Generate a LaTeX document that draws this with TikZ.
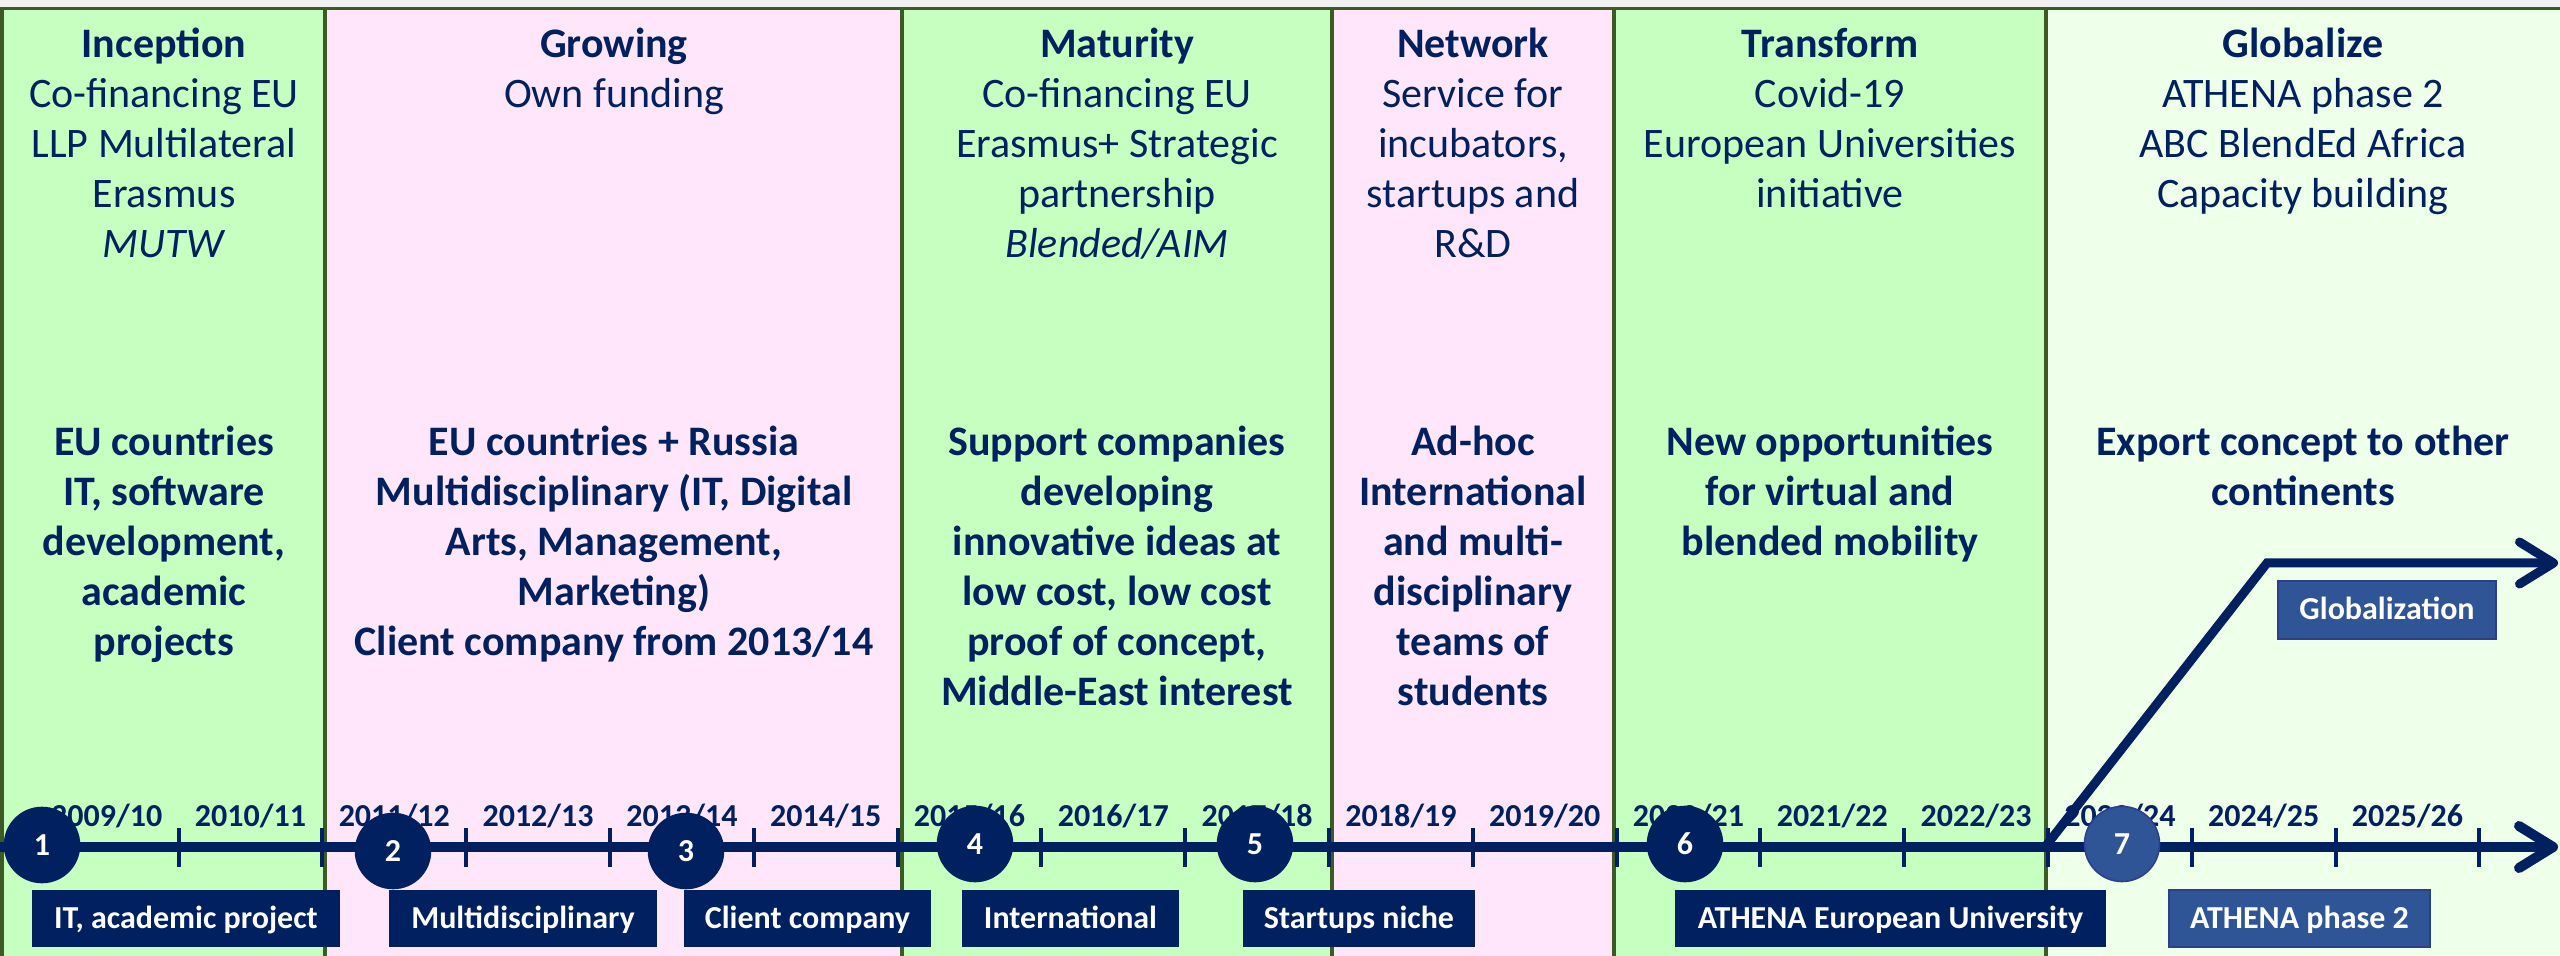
\documentclass[tikz,border=0pt]{standalone}
\usepackage{fontspec}
\setmainfont{Carlito}
\usetikzlibrary{arrows.meta}
\definecolor{navy}{HTML}{002060}
\definecolor{gfill}{HTML}{C6FFC0}
\definecolor{pfill}{HTML}{FFE6FA}
\definecolor{lfill}{HTML}{EEFFEA}
\definecolor{gborder}{HTML}{3B5A25}
\definecolor{midblue}{HTML}{2F5597}
\definecolor{midborder}{HTML}{2E3E8C}
\definecolor{topgray}{HTML}{F0F0F0}
\begin{document}
\begin{tikzpicture}[x=0.5pt,y=-0.5pt,
  head/.style={anchor=north, align=center, inner sep=0pt, text=navy, font=\fontsize{21}{25}\selectfont},
  bodyt/.style={head, font=\fontsize{21}{25}\selectfont\bfseries},
  yr/.style={anchor=base, inner sep=0pt, text=navy, font=\fontsize{16}{19}\selectfont\bfseries},
  circ/.style={circle, fill=navy, draw=navy, line width=0.8pt, minimum size=37.5pt, inner sep=0pt,
    text=white, font=\fontsize{16}{19}\selectfont\bfseries, text height=12pt, text depth=2pt},
  circlight/.style={circ, fill=midblue, draw=midborder},
  bx/.style={fill=navy, inner sep=0pt, minimum height=28.5pt, text=white,
    font=\fontsize{16}{19}\selectfont\bfseries, text height=12pt, text depth=2pt},
  bxlight/.style={bx, fill=midblue, draw=midborder, line width=0.8pt},
  sep/.style={draw=gborder, line width=2.2pt},
  tl/.style={draw=navy, line width=5pt, -{Straight Barb[length=17pt,width=21pt,round]}},
  gl/.style={draw=navy, line width=4.5pt, line join=miter, -{Straight Barb[length=17pt,width=21pt,round]}},
  tickmark/.style={draw=navy, line width=2pt}
]
\useasboundingbox (0,0) rectangle (2560,956);
% backgrounds
\fill[topgray] (0,0) rectangle (2560,9);
\fill[gfill] (0,9) rectangle (325,956);
\fill[pfill] (325,9) rectangle (902,956);
\fill[gfill] (902,9) rectangle (1332,956);
\fill[pfill] (1332,9) rectangle (1614,956);
\fill[gfill] (1614,9) rectangle (2046,956);
\fill[lfill] (2046,9) rectangle (2560,956);
% borders
\draw[gborder, line width=1.5pt] (0,9) -- (2560,9);
\foreach \xx in {2,325,902,1332,1614,2046} \draw[sep] (\xx,8) -- (\xx,956);
% headers
\node[head] (h1) at (164,22) {\strut\textbf{Inception}\\\strut Co-financing EU\\\strut LLP Multilateral\\\strut Erasmus\\\strut\textit{MUTW}};
\node[head] (h2) at (614,22) {\strut\textbf{Growing}\\\strut Own funding};
\node[head] (h3) at (1117,22) {\strut\textbf{Maturity}\\\strut Co-financing EU\\\strut Erasmus+ Strategic\\\strut partnership\\\strut\textit{Blended/AIM}};
\node[head] (h4) at (1473,22) {\strut\textbf{Network}\\\strut Service for\\\strut incubators,\\\strut startups and\\\strut R\&D};
\node[head] (h5) at (1830,22) {\strut\textbf{Transform}\\\strut Covid-19\\\strut European Universities\\\strut initiative};
\node[head] (h6) at (2303,22) {\strut\textbf{Globalize}\\\strut ATHENA phase 2\\\strut ABC BlendEd Africa\\\strut Capacity building};
% bodies
\node[bodyt] (t1) at (164,420) {\strut EU countries\\\strut IT, software\\\strut development,\\\strut academic\\\strut projects};
\node[bodyt] (t2) at (614,420) {\strut EU countries + Russia\\\strut Multidisciplinary (IT, Digital\\\strut Arts, Management,\\\strut Marketing)\\\strut Client company from 2013/14};
\node[bodyt] (t3) at (1117,420) {\strut Support companies\\\strut developing\\\strut innovative ideas at\\\strut low cost, low cost\\\strut proof of concept,\\\strut Middle-East interest};
\node[bodyt] (t4) at (1473,420) {\strut Ad-hoc\\\strut International\\\strut and multi-\\\strut disciplinary\\\strut teams of\\\strut students};
\node[bodyt] (t5) at (1830,420) {\strut New opportunities\\\strut for virtual and\\\strut blended mobility};
\node[bodyt] (t6) at (2303,420) {\strut Export concept to other\\\strut continents};
% timeline
\coordinate (tlstart) at (0,847);
\coordinate (tlend) at (2558,847);
\draw[tl] (tlstart) -- (tlend);
\foreach \k in {0,...,16} \draw[tickmark] (178.6+143.8*\k,828) -- (178.6+143.8*\k,867);
% globalization branch
\coordinate (gstart) at (2045,847);
\coordinate (gbend) at (2267,563);
\coordinate (gend) at (2558,563);
\draw[gl] (gstart) -- (gbend) -- (gend);
% years
\foreach \lab [count=\i from 0] in {2009/10,2010/11,2011/12,2012/13,2013/14,2014/15,2015/16,2016/17,2017/18,2018/19,2019/20,2020/21,2021/22,2022/23,2023/24,2024/25,2025/26}
  \node[yr] (y\i) at (106.7+143.8*\i,826) {\lab};
% circles
\node[circ] (c1) at (42,845) {1};
\node[circ] (c2) at (393,851) {2};
\node[circ] (c3) at (686,851) {3};
\node[circ] (c4) at (975,844) {4};
\node[circ] (c5) at (1255,844) {5};
\node[circ] (c6) at (1685,844) {6};
\node[circlight] (c7) at (2122,844) {7};
% boxes
\node[bx, minimum width=154pt] (b1) at (186,918.5) {IT, academic project};
\node[bx, minimum width=134pt] (b2) at (523,918.5) {Multidisciplinary};
\node[bx, minimum width=123.5pt] (b3) at (807.5,918.5) {Client company};
\node[bx, minimum width=108.5pt] (b4) at (1070.5,918.5) {International};
\node[bx, minimum width=116pt] (b5) at (1359,918.5) {Startups niche};
\node[bx, minimum width=215.5pt] (b6) at (1890.5,918.5) {ATHENA European University};
\node[bxlight, minimum width=130.5pt] (b7) at (2299.5,918.5) {ATHENA phase 2};
\node[bxlight, minimum width=109pt, minimum height=29pt] (bg) at (2387,610) {Globalization};
\end{tikzpicture}
\end{document}
